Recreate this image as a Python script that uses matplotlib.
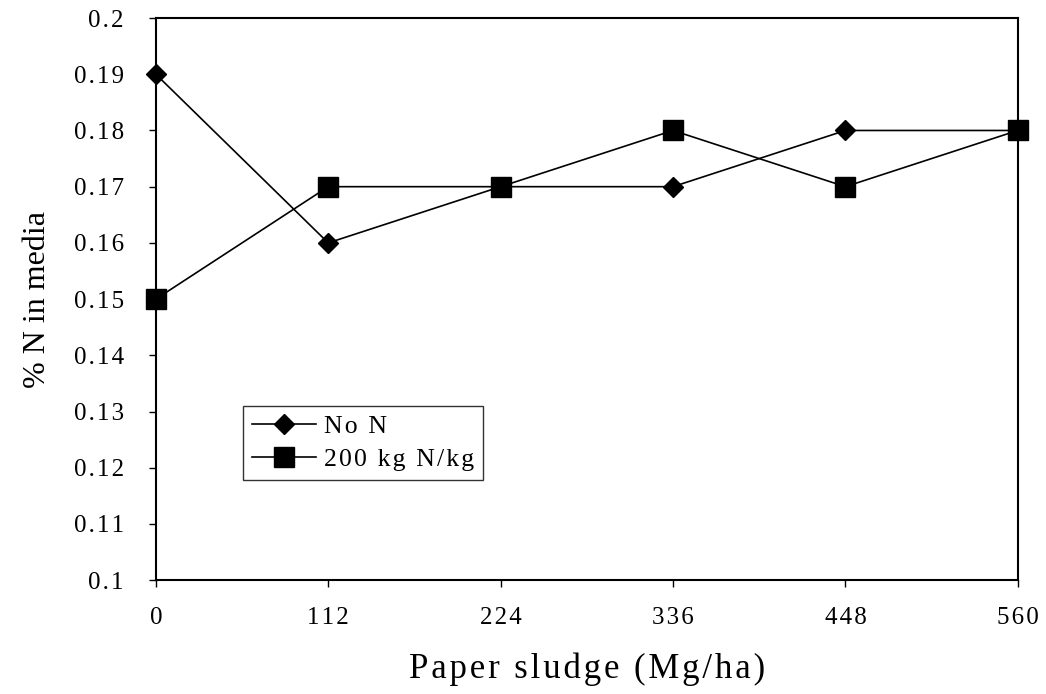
import matplotlib
matplotlib.use("Agg")
import matplotlib.pyplot as plt

# data
sludge = ["0", "112", "224", "336", "448", "560"]
no_n = [0.19, 0.16, 0.17, 0.17, 0.18, 0.18]
n200 = [0.15, 0.17, 0.17, 0.18, 0.17, 0.18]
yticks = [0.1, 0.11, 0.12, 0.13, 0.14, 0.15, 0.16, 0.17, 0.18, 0.19, 0.2]
ytick_labels = ["0.1", "0.11", "0.12", "0.13", "0.14", "0.15", "0.16", "0.17", "0.18", "0.19", "0.2"]

plt.rcParams['font.family'] = ['Liberation Serif', 'DejaVu Serif']


def spaced(s):
    # the original uses loose letter spacing
    return "\u200a".join(s)


fig = plt.figure(figsize=(10.46, 6.94), dpi=100)
ax = fig.add_axes([0.149, 0.164, 0.824, 0.81])

x = list(range(len(sludge)))
ax.plot(x, no_n, color="black", lw=1.2, marker="D", ms=10.5, label=spaced("No N"), clip_on=False, zorder=3)
ax.plot(x, n200, color="black", lw=1.2, marker="s", ms=14, label=spaced("200 kg N/kg"), clip_on=False, zorder=3)

ax.set_xlim(0, len(sludge) - 1)
ax.set_ylim(0.1, 0.2)
ax.set_xticks(x)
ax.set_xticklabels([spaced(t) for t in sludge])
ax.set_yticks(yticks)
ax.set_yticklabels([spaced(t) for t in ytick_labels])
ax.tick_params(axis="both", direction="out", length=5, width=1, labelsize=18)
ax.tick_params(axis="y", pad=18)
ax.tick_params(axis="x", pad=14)

for s in ax.spines.values():
    s.set_linewidth(1.5)

ax.set_xlabel(spaced("Paper sludge (Mg/ha)"), fontsize=25, labelpad=17)
ax.set_ylabel("% N in media", fontsize=23, labelpad=16)

leg = ax.legend(loc="lower left", bbox_to_anchor=(0.101, 0.178), fontsize=18.5,
                frameon=True, fancybox=False, edgecolor="black", handlelength=2.5,
                borderpad=0.35, labelspacing=0.4, handletextpad=0.3,
                borderaxespad=0)
leg.get_frame().set_linewidth(1.0)

fig.savefig("out.png", dpi=100)
